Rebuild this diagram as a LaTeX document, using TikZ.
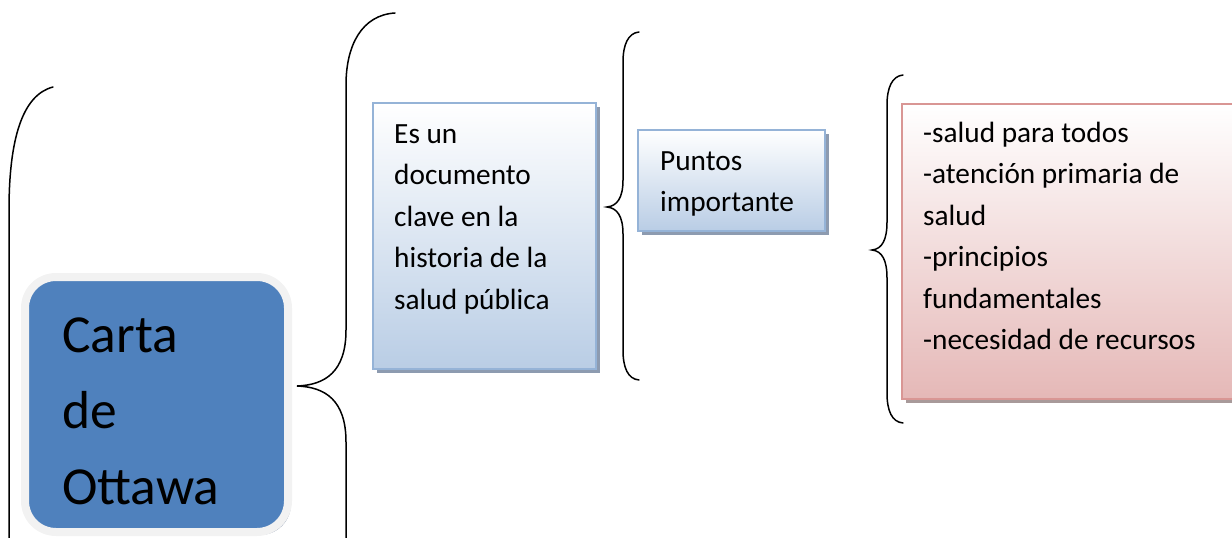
\documentclass[tikz,border=0pt]{standalone}
\usepackage{fontspec}
\setmainfont{Carlito}
\usetikzlibrary{shadows}
\definecolor{cartablue}{HTML}{4F81BD}
\definecolor{framegray}{HTML}{F2F2F2}
\definecolor{bluebd}{HTML}{95B3D7}
\definecolor{bluebot}{HTML}{B9CDE5}
\definecolor{pinkbd}{HTML}{D99694}
\definecolor{pinkbot}{HTML}{E5B8B7}
\definecolor{shadowblue}{HTML}{8D9BB0}
\definecolor{shadowpink}{HTML}{A89A9A}
\begin{document}
\begin{tikzpicture}[x=1pt,y=-1pt,
  bracepath/.style={draw=black,line width=1.5pt,line cap=round},
  bigtext/.style={font=\fontsize{53.5}{76}\selectfont,anchor=north west,inner sep=0pt,align=left},
  bodytext/.style={font=\fontsize{29.3}{41.5}\selectfont,anchor=north west,inner sep=0pt,align=left},
  boxbase/.style={anchor=north west,inner sep=0pt,outer sep=0pt,line width=1.5pt},
  bluebox/.style={boxbase,draw=bluebd,top color=white,bottom color=bluebot,
    drop shadow={shadow xshift=4pt,shadow yshift=-4pt,fill=shadowblue,opacity=1}},
  pinkbox/.style={boxbase,draw=pinkbd,top color=white,bottom color=pinkbot,
    drop shadow={shadow xshift=4pt,shadow yshift=-4pt,fill=shadowpink,opacity=1}},
  cartabox/.style={anchor=north west,inner sep=0pt,outer sep=0pt,draw=framegray,line width=8pt,
    fill=cartablue,rounded corners=31pt,
    drop shadow={shadow xshift=3pt,shadow yshift=-3pt,fill=shadowblue,opacity=1}}
]
\useasboundingbox (0,0) rectangle (1232,538);
\clip (0,0) rectangle (1232,538);

% main box
\node[cartabox,minimum width=263pt,minimum height=255pt] (carta) at (25,277) {};
\node[bigtext] (cartatext) at (62,298.8) {\strut Carta\\de\\Ottawa};

% first box
\node[bluebox,minimum width=223pt,minimum height=266pt] (doc) at (373,103) {};
\node[bodytext] (doctext) at (394,113.95) {\strut Es un\\documento\\clave en la\\historia de la\\salud pública};

% second box
\node[bluebox,minimum width=187pt,minimum height=101pt] (puntos) at (638,130) {};
\node[bodytext] (puntostext) at (660,140.95) {\strut Puntos\\importante};

% third box
\node[pinkbox,minimum width=345pt,minimum height=295pt] (lista) at (902,104) {};
\node[bodytext] (listatext) at (923,112.95) {\strut -salud para todos\\-atención primaria de\\salud\\-principios\\fundamentales\\-necesidad de recursos};

% brace tips and ends
\coordinate (b1top) at (53,87);
\coordinate (b1bot) at (9,545);
\coordinate (b2top) at (395,13);
\coordinate (b2tip) at (297,386);
\coordinate (b2bot) at (346,545);
\coordinate (b3top) at (639,32);
\coordinate (b3tip) at (607,207);
\coordinate (b3bot) at (639,380);
\coordinate (b4top) at (903,75);
\coordinate (b4tip) at (872,250);
\coordinate (b4bot) at (903,423);

% left partial brace
\draw[bracepath] (b1top) .. controls (22,95) and (9,140) .. (9,210) -- (b1bot);

% brace from Carta to first box
\draw[bracepath] (b2top) .. controls (362,15) and (346,45) .. (346,85) -- (346,330)
  .. controls (346,372) and (325,385) .. (b2tip)
  .. controls (325,387) and (346,400) .. (346,442) -- (b2bot);

% brace to second box
\draw[bracepath] (b3top) .. controls (628,33) and (623,45) .. (623,62) -- (623,180)
  .. controls (623,198) and (617,206) .. (b3tip)
  .. controls (617,208) and (623,216) .. (623,234) -- (623,350)
  .. controls (623,368) and (628,379) .. (b3bot);

% brace to list
\draw[bracepath] (b4top) .. controls (892,76) and (887,88) .. (887,105) -- (887,222)
  .. controls (887,240) and (882,249) .. (b4tip)
  .. controls (882,251) and (887,260) .. (887,278) -- (887,393)
  .. controls (887,411) and (892,422) .. (b4bot);
\end{tikzpicture}
\end{document}
